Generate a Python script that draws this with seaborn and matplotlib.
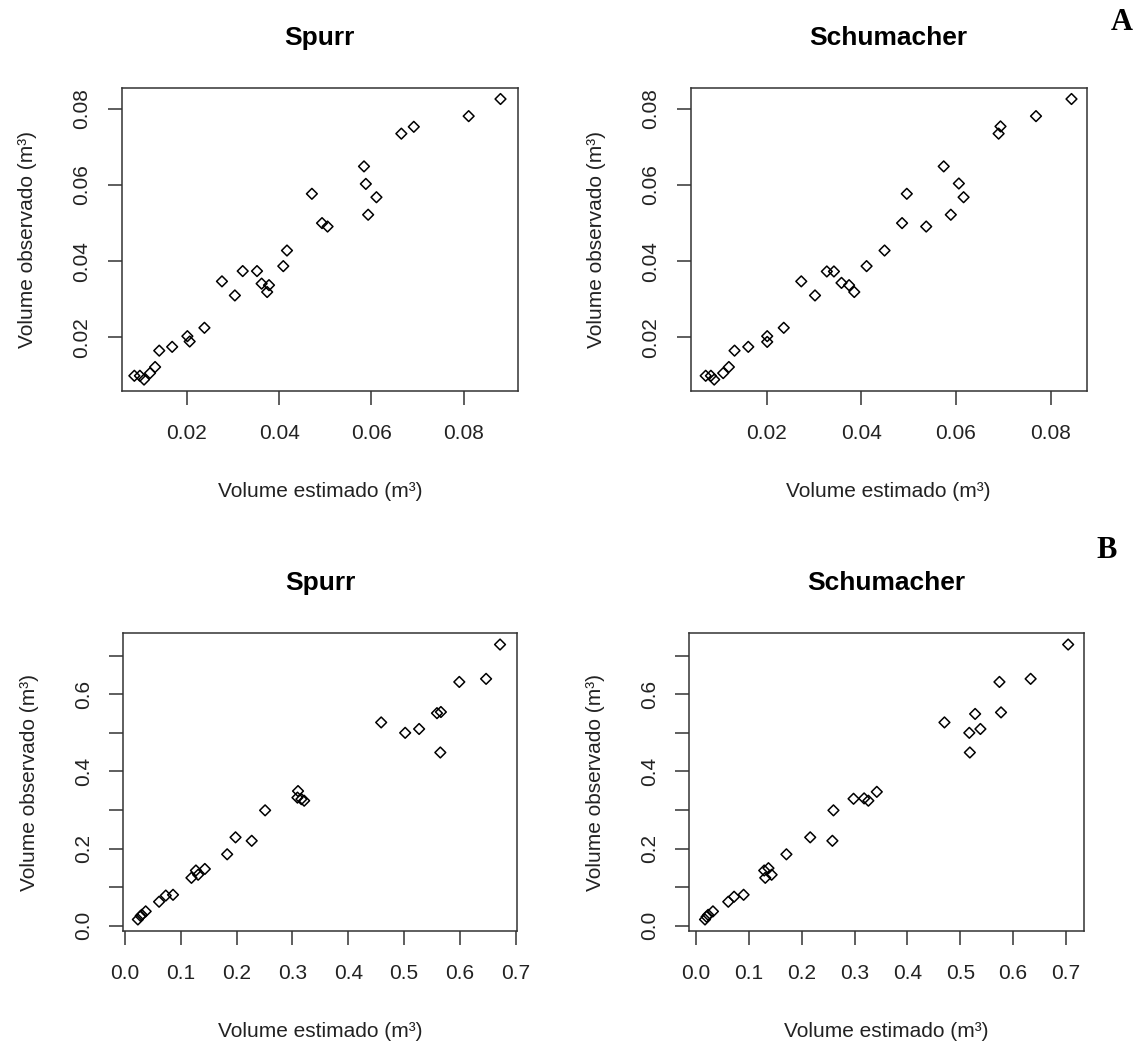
import matplotlib
matplotlib.use("Agg")
import matplotlib.pyplot as plt
import seaborn as sns
import pandas as pd

# --- data ---
# panel A (small volumes)
spurr_a_est = [0.0880, 0.0811, 0.0665, 0.0692, 0.0584, 0.0588, 0.0611, 0.0593, 0.0471, 0.0493,
               0.0505, 0.0417, 0.0409, 0.0321, 0.0352, 0.0276, 0.0304, 0.0362, 0.0378, 0.0374,
               0.0238, 0.0201, 0.0206, 0.0168, 0.0140, 0.0131, 0.0120, 0.0107, 0.0086, 0.0098]
schum_a_est = [0.0844, 0.0769, 0.0694, 0.0690, 0.0574, 0.0606, 0.0616, 0.0589, 0.0496, 0.0486,
               0.0537, 0.0449, 0.0411, 0.0327, 0.0342, 0.0273, 0.0302, 0.0358, 0.0374, 0.0385,
               0.0236, 0.0201, 0.0201, 0.0161, 0.0132, 0.0120, 0.0108, 0.0089, 0.0071, 0.0082]
obs_a = [0.0826, 0.0781, 0.0735, 0.0753, 0.0649, 0.0603, 0.0568, 0.0522, 0.0577, 0.0500,
         0.0491, 0.0428, 0.0387, 0.0374, 0.0374, 0.0347, 0.0310, 0.0341, 0.0337, 0.0319,
         0.0225, 0.0203, 0.0189, 0.0175, 0.0165, 0.0122, 0.0106, 0.0089, 0.0099, 0.0099]
obs_a_schum = [0.0826, 0.0781, 0.0754, 0.0735, 0.0649, 0.0604, 0.0568, 0.0522, 0.0577, 0.0500,
               0.0491, 0.0428, 0.0387, 0.0373, 0.0373, 0.0347, 0.0310, 0.0343, 0.0337, 0.0319,
               0.0225, 0.0203, 0.0188, 0.0175, 0.0165, 0.0122, 0.0106, 0.0089, 0.0099, 0.0099]

# panel B (large volumes)
spurr_b_est = [0.672, 0.599, 0.647, 0.459, 0.502, 0.527, 0.559, 0.566, 0.565, 0.310,
               0.309, 0.316, 0.321, 0.251, 0.198, 0.227, 0.183, 0.143, 0.127, 0.119,
               0.131, 0.086, 0.073, 0.061, 0.037, 0.028, 0.023, 0.030]
spurr_b_obs = [0.729, 0.632, 0.640, 0.527, 0.500, 0.510, 0.551, 0.554, 0.449, 0.349,
               0.332, 0.328, 0.324, 0.299, 0.229, 0.220, 0.185, 0.147, 0.143, 0.124,
               0.132, 0.080, 0.078, 0.062, 0.037, 0.025, 0.016, 0.028]
schum_b_est = [0.704, 0.574, 0.633, 0.470, 0.528, 0.577, 0.517, 0.538, 0.518, 0.342,
               0.298, 0.318, 0.326, 0.260, 0.258, 0.216, 0.171, 0.137, 0.129, 0.131,
               0.143, 0.090, 0.072, 0.061, 0.032, 0.020, 0.017, 0.023]
schum_b_obs = [0.729, 0.632, 0.640, 0.527, 0.549, 0.553, 0.500, 0.510, 0.449, 0.347,
               0.329, 0.330, 0.324, 0.299, 0.220, 0.229, 0.185, 0.149, 0.143, 0.124,
               0.132, 0.080, 0.075, 0.062, 0.037, 0.023, 0.016, 0.028]

ticks_a = [0.02, 0.04, 0.06, 0.08]
ticks_b = [0.0, 0.1, 0.2, 0.3, 0.4, 0.5, 0.6, 0.7]
yticks_b = [0.0, 0.1, 0.2, 0.3, 0.4, 0.5, 0.6, 0.7]

xlabel = "Volume estimado (m³)"
ylabel = "Volume observado (m³)"

sns.set_style("white")
plt.rcParams['font.family'] = ['Liberation Sans', 'DejaVu Sans']

fig = plt.figure(figsize=(11.37, 10.41), dpi=100)
ink = "#222222"

# axes rectangles (figure fraction)
panels = [
    ("Spurr", spurr_a_est, obs_a, [0.107, 0.6244, 0.3486, 0.2911], (0.00585, 0.0918), (0.0059, 0.0855), "a"),
    ("Schumacher", schum_a_est, obs_a_schum, [0.6075, 0.6244, 0.3482, 0.2911], (0.00394, 0.0876), (0.0059, 0.0855), "a"),
    ("Spurr", spurr_b_est, spurr_b_obs, [0.1085, 0.1057, 0.3465, 0.2859], (-0.003, 0.703), (-0.0138, 0.758), "b"),
    ("Schumacher", schum_b_est, schum_b_obs, [0.6063, 0.1057, 0.3471, 0.2859], (-0.0126, 0.734), (-0.0138, 0.758), "b"),
]

for title, est, obs, rect, xl, yl, kind in panels:
    ax = fig.add_axes(rect)
    df = pd.DataFrame({"est": est, "obs": obs})
    sns.scatterplot(data=df, x="est", y="obs", ax=ax, marker="D", s=30,
                    facecolors="none", edgecolor="black", linewidth=1.1)
    ax.set_xlim(*xl)
    ax.set_ylim(*yl)
    if kind == "a":
        ax.set_xticks(ticks_a)
        ax.set_xticklabels([f"{t:.2f}" for t in ticks_a])
        ax.set_yticks(ticks_a)
        ax.set_yticklabels([f"{t:.2f}" for t in ticks_a])
    else:
        ax.set_xticks(ticks_b)
        ax.set_xticklabels([f"{t:.1f}" for t in ticks_b])
        ax.set_yticks(yticks_b)
        ax.set_yticklabels([f"{t:.1f}" if i % 2 == 0 else "" for i, t in enumerate(yticks_b)])
    for sp in ax.spines.values():
        sp.set_visible(True)
        sp.set_color("#333333")
        sp.set_linewidth(1.1)
    ax.tick_params(axis="both", direction="out", length=10, width=1.1, color="#333333",
                   labelsize=15, labelcolor=ink, left=True, bottom=True)
    ax.tick_params(axis="x", pad=14)
    ax.tick_params(axis="y", pad=12, labelrotation=90)
    for t in ax.get_yticklabels():
        t.set_va("center")
    ax.set_xlabel(xlabel, fontsize=15, color=ink, labelpad=28)
    ax.set_ylabel(ylabel, fontsize=15, color=ink, labelpad=25)
    ax.set_title(title, fontsize=19, fontweight="bold", color="black", pad=31)

fig.text(1122 / 1137, 1 - 22 / 1041, "A", family="Liberation Serif", fontweight="bold",
         fontsize=22, ha="center", va="center", color="black")
fig.text(1107 / 1137, 1 - 551 / 1041, "B", family="Liberation Serif", fontweight="bold",
         fontsize=22, ha="center", va="center", color="black")

fig.savefig("out.png", dpi=100, facecolor="white")
